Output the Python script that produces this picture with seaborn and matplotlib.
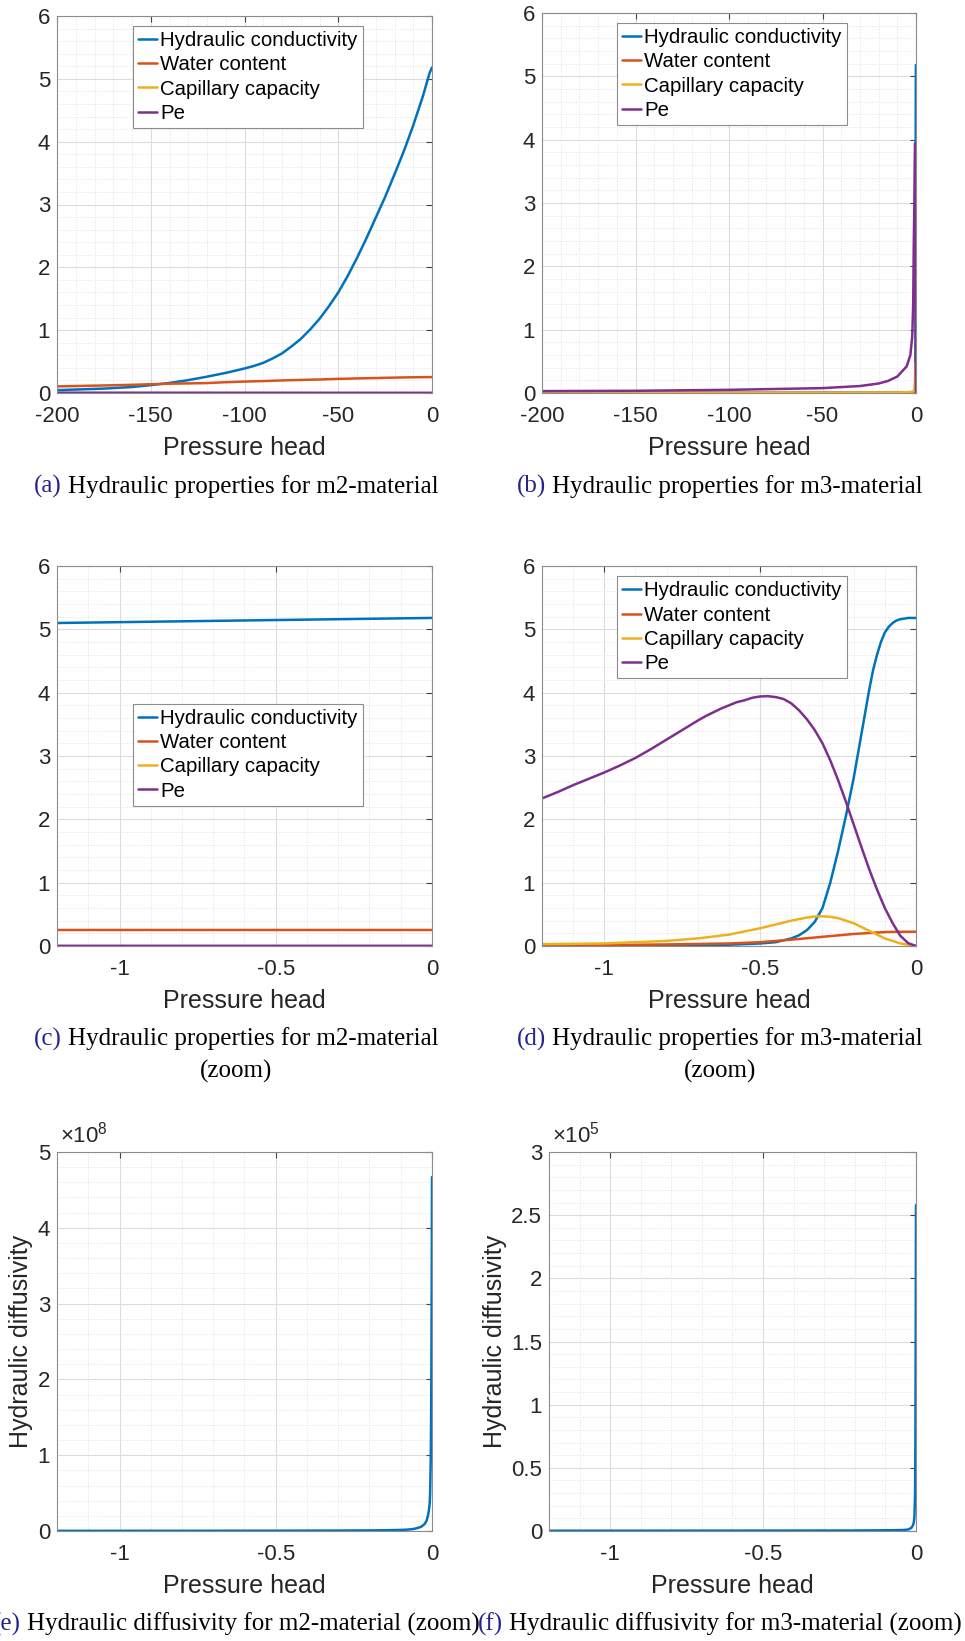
import matplotlib
matplotlib.use("Agg")
import matplotlib.pyplot as plt
import seaborn as sns
from matplotlib.ticker import MultipleLocator, FuncFormatter

# ---- values ----
series_names = ["Hydraulic conductivity", "Water content", "Capillary capacity", "Pe"]
series_colors = ["#0072BD", "#D95319", "#EDB120", "#7E2F8E"]

# m2-material
m2_x = [-200, -175, -160, -150, -140, -130, -120, -110, -100, -95, -90, -85, -80, -75, -70,
        -65, -60, -55, -50, -45, -40, -35, -30, -25, -20, -15, -10, -5, -1.2, -0.6, 0]
m2_conductivity = [0.045, 0.07, 0.095, 0.125, 0.16, 0.205, 0.26, 0.32, 0.39, 0.43, 0.48, 0.55,
                   0.63, 0.74, 0.86, 1.01, 1.18, 1.38, 1.60, 1.86, 2.15, 2.46, 2.79, 3.12,
                   3.48, 3.85, 4.26, 4.71, 5.10, 5.14, 5.18]
m2_water = [0.105, 0.12, 0.13, 0.14, 0.148, 0.153, 0.158, 0.172, 0.182, 0.186, 0.19, 0.195,
            0.20, 0.204, 0.208, 0.212, 0.215, 0.22, 0.225, 0.228, 0.232, 0.235, 0.238, 0.242,
            0.245, 0.248, 0.25, 0.252, 0.253, 0.253, 0.253]
m2_flat_x = [-200, -100, 0]
m2_capacity = [0.002, 0.002, 0.002]
m2_pe = [0.005, 0.004, 0.003]

# m3-material
m3_cond_x = [-200, -1.2, -1.0, -0.8, -0.6, -0.5, -0.45, -0.4, -0.375, -0.35, -0.325, -0.3,
             -0.275, -0.25, -0.225, -0.2, -0.175, -0.15, -0.1375, -0.125, -0.1125, -0.1,
             -0.0875, -0.075, -0.0625, -0.05, -0.025, 0]
m3_conductivity = [0.0, 0.0, 0.003, 0.008, 0.02, 0.04, 0.06, 0.12, 0.17, 0.25, 0.38, 0.6,
                   1.0, 1.5, 2.05, 2.65, 3.35, 4.05, 4.36, 4.6, 4.8, 4.95, 5.04, 5.1, 5.14,
                   5.16, 5.18, 5.18]
m3_water_x = [-200, -100, -20, -5, -1.2, -1.0, -0.8, -0.6, -0.5, -0.4, -0.3, -0.2, -0.1, -0.05, 0]
m3_water = [0.003, 0.004, 0.006, 0.008, 0.01, 0.015, 0.025, 0.04, 0.06, 0.10, 0.145, 0.19,
            0.22, 0.225, 0.225]
m3_cap_x = [-200, -100, -50, -20, -10, -5, -2, -1.2, -1.0, -0.8, -0.7, -0.6, -0.5, -0.45,
            -0.4, -0.35, -0.325, -0.3, -0.275, -0.25, -0.2, -0.15, -0.1, -0.05, 0]
m3_capacity = [0.0, 0.001, 0.002, 0.005, 0.008, 0.012, 0.02, 0.03, 0.04, 0.08, 0.12, 0.18,
               0.28, 0.34, 0.40, 0.45, 0.465, 0.47, 0.46, 0.44, 0.36, 0.24, 0.12, 0.04, 0.0]
m3_pe_x = [-200, -150, -100, -50, -30, -20, -15, -10, -5, -3, -2, -1.5, -1.2, -1.15, -1.1,
           -1.05, -1.0, -0.95, -0.9, -0.85, -0.8, -0.75, -0.7, -0.675, -0.65, -0.625, -0.6,
           -0.575, -0.55, -0.525, -0.5, -0.475, -0.45, -0.425, -0.4, -0.375, -0.35, -0.325,
           -0.3, -0.275, -0.25, -0.225, -0.2, -0.175, -0.15, -0.125, -0.1, -0.075, -0.05,
           -0.025, 0]
m3_pe = [0.03, 0.035, 0.05, 0.077, 0.11, 0.15, 0.19, 0.26, 0.42, 0.6, 0.9, 1.4, 2.33, 2.43,
         2.54, 2.64, 2.74, 2.85, 2.97, 3.11, 3.26, 3.41, 3.56, 3.63, 3.69, 3.75, 3.80,
         3.85, 3.88, 3.92, 3.94, 3.945, 3.93, 3.90, 3.83, 3.72, 3.58, 3.41,
         3.20, 2.93, 2.62, 2.28, 1.92, 1.56, 1.21, 0.89, 0.60, 0.36, 0.16,
         0.045, 0.0]

# hydraulic diffusivity (zoom)
m2_diff_x = [-1.2, -0.8, -0.5, -0.3, -0.2, -0.15, -0.1, -0.08, -0.06, -0.046, -0.035, -0.024,
             -0.018, -0.013, -0.01, -0.0075, -0.006, -0.004, -0.003, -0.002, -0.001, 0]
m2_diffusivity = [2e5, 3e5, 4e5, 6e5, 8e5, 1.0e6, 1.4e6, 1.8e6, 2.6e6, 4.0e6, 5.5e6, 9.0e6,
                  1.3e7, 2.0e7, 2.7e7, 3.6e7, 5.0e7, 9.5e7, 1.4e8, 2.1e8, 3.2e8, 4.67e8]
m3_diff_x = [-1.2, -0.6, -0.2, -0.08, -0.04, -0.025, -0.015, -0.01, -0.007, -0.005, -0.003,
             -0.002, -0.001, 0]
m3_diffusivity = [200, 300, 400, 600, 800, 1200, 2500, 4500, 7000, 12000, 30000, 70000,
                  150000, 258000]

captions = [
    ("(a)", ["Hydraulic properties for m2-material"]),
    ("(b)", ["Hydraulic properties for m3-material"]),
    ("(c)", ["Hydraulic properties for m2-material", "(zoom)"]),
    ("(d)", ["Hydraulic properties for m3-material", "(zoom)"]),
    ("(e)", ["Hydraulic diffusivity for m2-material (zoom)"]),
    ("(f)", ["Hydraulic diffusivity for m3-material (zoom)"]),
]

# ---- style ----
sns.set_theme(style="whitegrid")
plt.rcParams["font.family"] = ["Liberation Sans", "DejaVu Sans"]
plt.rcParams["axes.unicode_minus"] = False
plt.rcParams["mathtext.fontset"] = "custom"
plt.rcParams["mathtext.rm"] = "Liberation Sans"
plt.rcParams["mathtext.it"] = "Liberation Sans:italic"

W, H = 965, 1641
fig = plt.figure(figsize=(W / 100, H / 100), dpi=100)
fig.patch.set_facecolor("white")

TXT = "#262626"
FRAME = "#8c8c8c"
fmt_g = FuncFormatter(lambda v, _: f"{v:g}")


def px_axes(left, top, right, bottom):
    return fig.add_axes([left / W, 1 - bottom / H, (right - left) / W, (bottom - top) / H])


def style_axes(ax, xmaj, xmin, ymaj, ymin):
    ax.set_facecolor("white")
    ax.xaxis.set_major_locator(MultipleLocator(xmaj))
    ax.xaxis.set_minor_locator(MultipleLocator(xmin))
    ax.yaxis.set_major_locator(MultipleLocator(ymaj))
    ax.yaxis.set_minor_locator(MultipleLocator(ymin))
    ax.xaxis.set_major_formatter(fmt_g)
    ax.grid(which="major", color="#dcdcdc", lw=0.8, ls="-")
    ax.grid(which="minor", color="#e2e2e2", lw=0.7, ls=":")
    ax.set_axisbelow(True)
    for s in ax.spines.values():
        s.set_color(FRAME)
        s.set_linewidth(0.8)
        s.set_visible(True)
    ax.tick_params(which="major", direction="in", length=4, width=0.8, color="#444444",
                   top=True, right=True, labelsize=16, labelcolor=TXT)
    ax.tick_params(axis="x", which="major", pad=9.5)
    ax.tick_params(axis="y", which="major", pad=5)
    ax.tick_params(which="minor", length=0)
    ax.set_xlabel("Pressure head", fontsize=18, color=TXT, labelpad=6)


def props_panel(ax, curves, xlim, xmaj, xmin, anchor):
    for name, color, xs, ys in curves:
        sns.lineplot(x=xs, y=ys, ax=ax, color=color, lw=1.8, label=name,
                     estimator=None, sort=False)
    ax.set_xlim(*xlim)
    ax.set_ylim(0, 6)
    style_axes(ax, xmaj, xmin, 1, 0.2)
    ax.yaxis.set_major_formatter(fmt_g)
    ax.set_ylabel("")
    leg = ax.legend(loc="upper left", bbox_to_anchor=anchor, fontsize=14.7,
                    handlelength=0.95, handletextpad=0.15, borderpad=0.25,
                    labelspacing=0.26, borderaxespad=0, fancybox=False,
                    framealpha=1, edgecolor=FRAME)
    leg.get_frame().set_linewidth(0.8)
    for t in leg.get_texts():
        t.set_color("black")


m2_curves = [
    (series_names[0], series_colors[0], m2_x, m2_conductivity),
    (series_names[1], series_colors[1], m2_x, m2_water),
    (series_names[2], series_colors[2], m2_flat_x, m2_capacity),
    (series_names[3], series_colors[3], m2_flat_x, m2_pe),
]
m3_curves = [
    (series_names[0], series_colors[0], m3_cond_x, m3_conductivity),
    (series_names[1], series_colors[1], m3_water_x, m3_water),
    (series_names[2], series_colors[2], m3_cap_x, m3_capacity),
    (series_names[3], series_colors[3], m3_pe_x, m3_pe),
]

ax_a = px_axes(57, 16, 432, 393)
props_panel(ax_a, m2_curves, (-200, 0), 50, 10, (0.202, 0.974))
ax_b = px_axes(542, 13, 916, 393)
props_panel(ax_b, m3_curves, (-200, 0), 50, 10, (0.200, 0.974))
ax_c = px_axes(57, 566, 432, 946)
props_panel(ax_c, m2_curves, (-1.2, 0), 0.5, 0.1, (0.202, 0.638))
ax_d = px_axes(542, 566, 916, 946)
props_panel(ax_d, m3_curves, (-1.2, 0), 0.5, 0.1, (0.200, 0.973))


def diff_panel(ax, xs, ys, ymax, ymaj, ymin, scale, exp, label_x, off_x):
    sns.lineplot(x=xs, y=ys, ax=ax, color=series_colors[0], lw=1.8,
                 estimator=None, sort=False)
    ax.set_xlim(-1.2, 0)
    ax.set_ylim(0, ymax)
    style_axes(ax, 0.5, 0.1, ymaj, ymin)
    ax.yaxis.set_major_formatter(FuncFormatter(lambda v, _: f"{v / scale:g}"))
    ax.set_ylabel("Hydraulic diffusivity", fontsize=18, color=TXT)
    ax.yaxis.set_label_coords(label_x, 0.5)
    ax.text(off_x, 1.012, r"$\times10^{%d}$" % exp, transform=ax.transAxes,
            ha="left", va="bottom", fontsize=16, color=TXT)


ax_e = px_axes(57, 1152, 432, 1531)
diff_panel(ax_e, m2_diff_x, m2_diffusivity, 5e8, 1e8, 2e7, 1e8, 8, -0.064, 0.008)
ax_f = px_axes(549, 1152, 916, 1531)
diff_panel(ax_f, m3_diff_x, m3_diffusivity, 3e5, 5e4, 1e4, 1e5, 5, -0.115, 0.007)

# ---- sub-captions (serif, blue tag) ----
renderer = fig.canvas.get_renderer()
cap_kw = dict(fontsize=18, family=["Liberation Serif", "DejaVu Serif"], va="baseline")
NAVY = "#24248f"


def text_width(s):
    t = fig.text(0, 0, s, **cap_kw)
    w = t.get_window_extent(renderer).width
    t.remove()
    return w


def caption(xc, y_base, tag, lines, gap=31.7):
    first = lines[0]
    w_full = text_width(tag + " " + first)
    w_body = text_width(first)
    x0 = xc - w_full / 2
    fig.text(x0 / W, 1 - y_base / H, tag, color=NAVY, ha="left", **cap_kw)
    fig.text((x0 + w_full - w_body) / W, 1 - y_base / H, first, color="black",
             ha="left", **cap_kw)
    for i, extra in enumerate(lines[1:], start=1):
        fig.text(xc / W, 1 - (y_base + gap * i) / H, extra, color="black",
                 ha="center", **cap_kw)


cap_pos = [(236, 493), (720, 493), (236, 1045.5), (720, 1045.5), (236, 1631), (720, 1631)]
for (xc, yb), (tag, lines) in zip(cap_pos, captions):
    caption(xc, yb, tag, lines)

fig.savefig("out.png", dpi=100, facecolor="white")
